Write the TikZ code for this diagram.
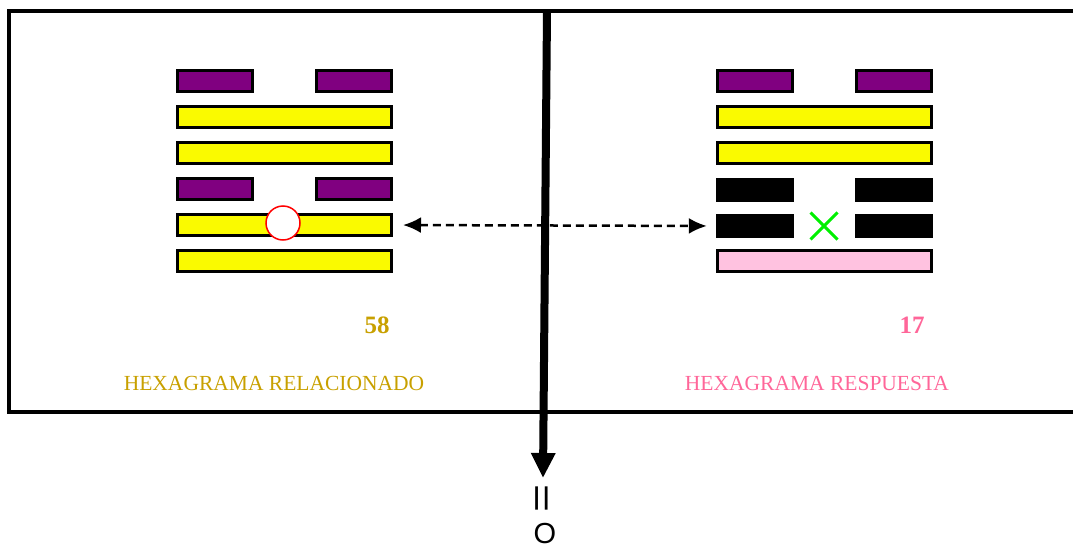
\documentclass[tikz,border=0pt]{standalone}
\usepackage{fontspec}
\setmainfont{Liberation Serif}
\newfontfamily\arialfont{Liberation Sans}
\usepackage{xcolor}
\usetikzlibrary{arrows.meta,shapes.misc}

\definecolor{yangyellow}{HTML}{FAFA00}
\definecolor{yinpurple}{HTML}{800080}
\definecolor{basepink}{HTML}{FFC2E0}
\definecolor{goldtext}{HTML}{C8A000}
\definecolor{pinktext}{HTML}{FF6699}
\definecolor{crossgreen}{HTML}{00F000}

\tikzset{
  yang/.style={draw, line width=3pt, fill=yangyellow, minimum width=214pt, minimum height=21pt, inner sep=0pt},
  yin/.style={draw, line width=3pt, fill=yinpurple, minimum width=75pt, minimum height=21pt, inner sep=0pt},
  blackyin/.style={fill=black, minimum width=78pt, minimum height=24pt, inner sep=0pt},
  number/.style={font=\fontsize{25}{28}\selectfont\bfseries},
  caption/.style={font=\fontsize{21.5}{24}\selectfont},
  linktip/.tip={Latex[length=18pt,width=16pt,sep=0pt]}
}

\begin{document}
\begin{tikzpicture}[x=1pt, y=-1pt]
  \useasboundingbox (0,0) rectangle (1073,546);

  % frame
  \draw[line width=4pt] (1073,11) -- (9,11) -- (9,412) -- (1073,412);

  % hexagrama relacionado
  \node[yin](rel6a) at (215,81){};
  \node[yin](rel6b) at (354,81){};
  \node[yang](rel5) at (284.5,117){};
  \node[yang](rel4) at (284.5,153){};
  \node[yin](rel3a) at (215,189){};
  \node[yin](rel3b) at (354,189){};
  \node[yang](rel2) at (284.5,225){};
  \node[yang](rel1) at (284.5,261){};
  \node[circle, draw=red, line width=1.5pt, fill=white, minimum size=34pt, inner sep=0pt](moving) at (283,223){};

  \node[number, text=goldtext](relnum) at (377,325){58};
  \node[caption, text=goldtext](relname) at (274,383){HEXAGRAMA RELACIONADO};

  % hexagrama respuesta
  \node[yin](res6a) at (755,81){};
  \node[yin](res6b) at (894,81){};
  \node[yang](res5) at (824.5,117){};
  \node[yang](res4) at (824.5,153){};
  \node[blackyin](res3a) at (755,190){};
  \node[blackyin](res3b) at (894,190){};
  \node[blackyin](res2a) at (755,226){};
  \node[blackyin](res2b) at (894,226){};
  \node[yang, fill=basepink](res1) at (824.5,261){};
  \node[cross out, draw=crossgreen, line width=3pt, minimum size=24pt, inner sep=0pt](changed) at (824,226){};

  \node[number, text=pinktext](resnum) at (912,325){17};
  \node[caption, text=pinktext](resname) at (817,383){HEXAGRAMA RESPUESTA};

  % relation between the changing lines
  \draw[linktip-linktip, line width=2.5pt, dash pattern=on 8pt off 5pt,
    shorten <=10pt, shorten >=9pt] (rel2.east) -- (res2a.west);

  % main arrow
  \coordinate (start) at (547,11);
  \coordinate (tip) at (543,478);
  \draw[line width=8pt, -{Triangle[length=25pt,width=23pt]}] (start) -- (tip);
  \node[font=\arialfont\fontsize{48}{48}\selectfont, rotate=90, inner sep=0pt](equals) at (545,498){\scalebox{1}[0.8]{=}};
  \node[font=\arialfont\fontsize{29}{29}\selectfont, anchor=base, inner sep=0pt](result) at (545,543.5){O};
\end{tikzpicture}
\end{document}
